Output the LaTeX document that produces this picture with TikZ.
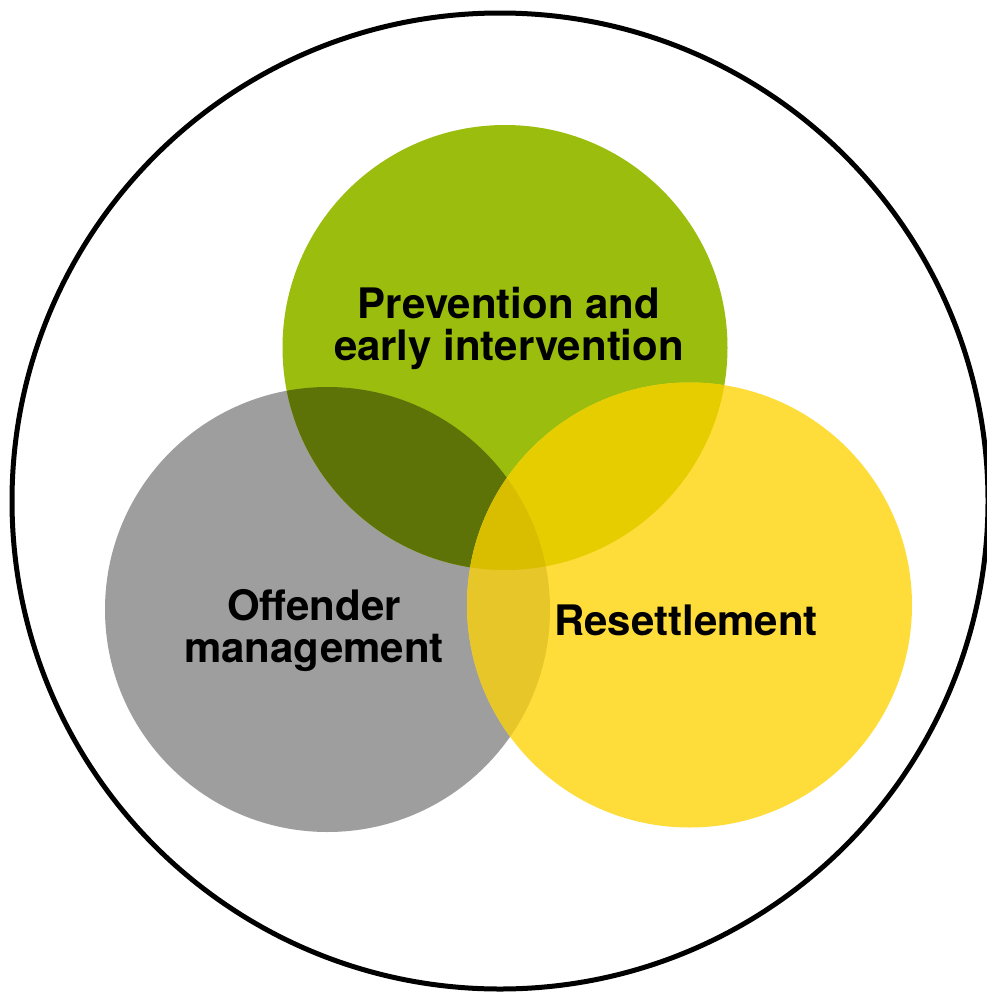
\documentclass[tikz,border=0pt]{standalone}
\usepackage{fontspec}
\setmainfont{TeX Gyre Heros}
\begin{document}
\begin{tikzpicture}[x=1pt,y=-1pt,
  every node/.style={inner sep=0pt, outer sep=0pt},
  disc/.style={circle, minimum size=445pt},
  label/.style={font=\fontsize{42}{42}\selectfont\bfseries, align=center, text=black, anchor=base},
]
\definecolor{cgreen}{HTML}{9BBD0E}
\definecolor{cgray}{HTML}{9E9E9E}
\definecolor{cyellow}{HTML}{FEDC3A}
\definecolor{cgraygreen}{HTML}{5D7308}
\definecolor{cgreenyellow}{HTML}{E6CD00}
\definecolor{cgrayyellow}{HTML}{E6C628}
\definecolor{ctriple}{HTML}{D9BE00}

\useasboundingbox (0,0) rectangle (987,993);
\fill[white] (0,0) rectangle (987,993);

% outer boundary
\node[circle, draw=black, line width=5pt, minimum size=976pt] (outer) at (500,501) {};

% the three discs
\node[disc, fill=cgray]   (offender)   at (327.5,609.5) {};
\node[disc, fill=cgreen]  (prevention) at (505,347.5) {};
\node[disc, fill=cyellow] (resettle)   at (689.5,605) {};

% pairwise overlaps
\begin{scope}
  \clip (offender.center) circle[radius=222.5pt];
  \fill[cgraygreen] (prevention.center) circle[radius=222.5pt];
\end{scope}
\begin{scope}
  \clip (prevention.center) circle[radius=222.5pt];
  \fill[cgreenyellow] (resettle.center) circle[radius=222.5pt];
\end{scope}
\begin{scope}
  \clip (offender.center) circle[radius=222.5pt];
  \fill[cgrayyellow] (resettle.center) circle[radius=222.5pt];
\end{scope}
% common overlap of all three
\begin{scope}
  \clip (offender.center) circle[radius=222.5pt];
  \clip (prevention.center) circle[radius=222.5pt];
  \fill[ctriple] (resettle.center) circle[radius=222.5pt];
\end{scope}

% labels (base = baseline of the last line)
\node[label] (tprev) at (509,360) {Prevention and\\early intervention};
\node[label] (toff)  at (314,662) {Offender\\management};
\node[label] (tres)  at (686,635) {Resettlement};
\end{tikzpicture}
\end{document}
